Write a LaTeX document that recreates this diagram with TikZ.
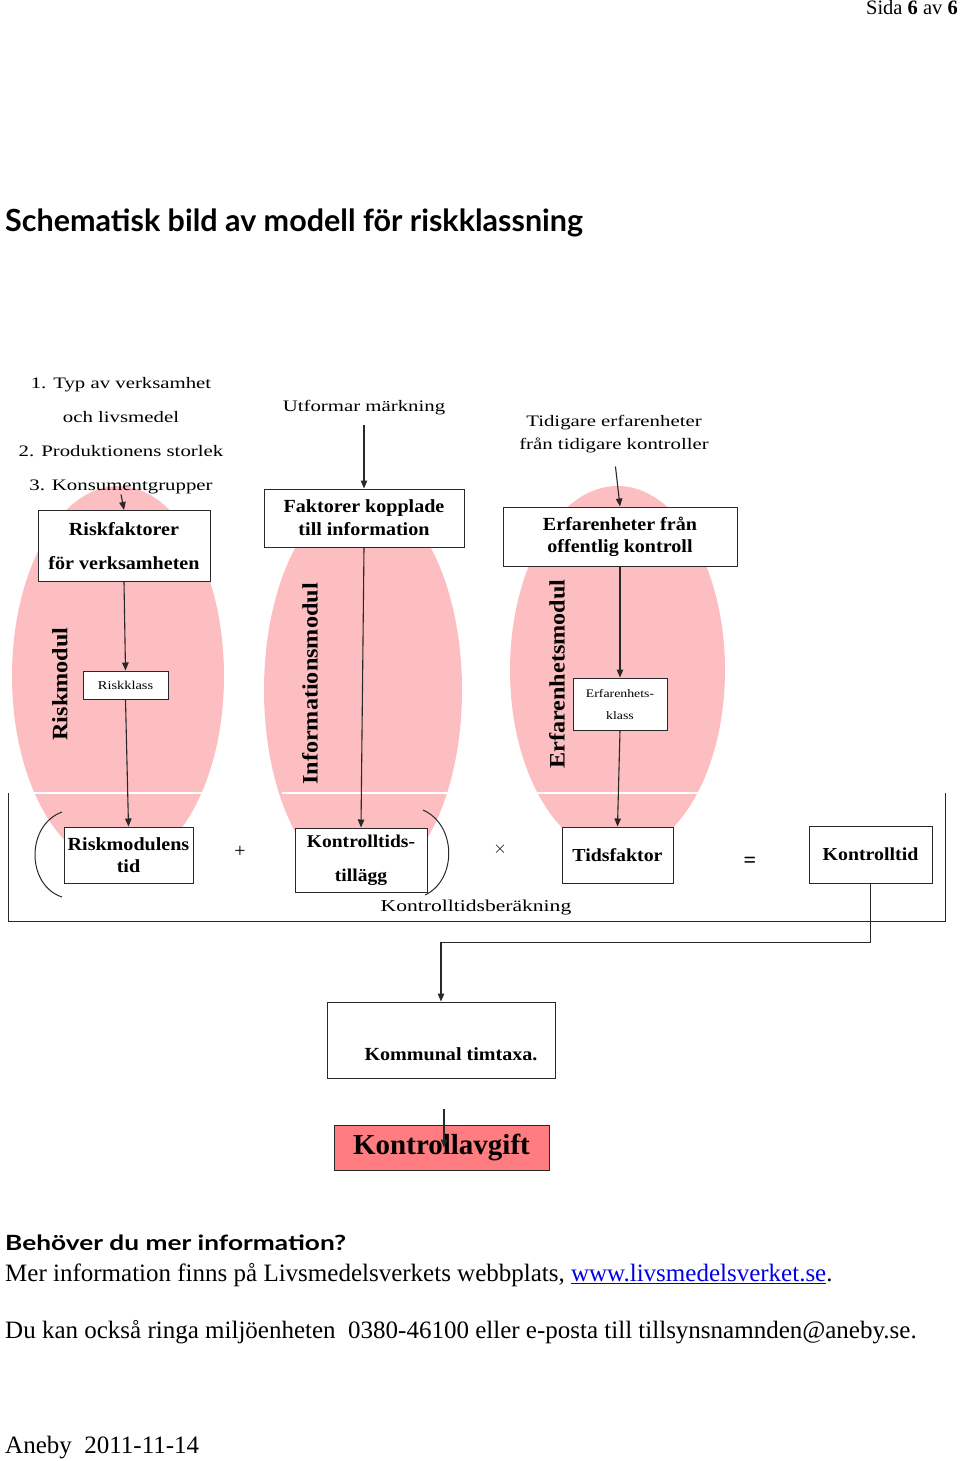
\documentclass[tikz,border=0pt]{standalone}
\usepackage{fontspec}
\setmainfont{Liberation Serif}
\newfontfamily\titlefont{Lato}
\newfontfamily\qfont[FakeStretch=1.25]{Lato}
\newfontfamily\sA[FakeStretch=1.3]{Liberation Serif}
\newfontfamily\sB[FakeStretch=1.085]{Liberation Serif}
\newfontfamily\sC[FakeStretch=1.2]{Liberation Serif}
\newfontfamily\sV[FakeStretch=1.1]{Liberation Serif}
\usetikzlibrary{arrows.meta,calc}
\definecolor{pinkfill}{RGB}{252,190,193}
\definecolor{redfill}{RGB}{255,124,128}
\definecolor{linkblue}{RGB}{0,0,230}
\definecolor{ln}{RGB}{40,40,40}
\begin{document}
\begin{tikzpicture}[x=1pt,y=-1pt,
  box/.style={draw=ln, line width=1pt, fill=white, inner sep=0pt, align=center},
  arr/.style={draw=ln, line width=1.1pt, -{Triangle[length=8pt,width=6.5pt]}},
  plain/.style={draw=ln, line width=1pt},
  lbl/.style={align=center, inner sep=0pt},
  vlab/.style={rotate=90, inner sep=0pt, font=\sV\fontsize{22}{22}\selectfont\bfseries},
  body/.style={anchor=base west, inner sep=0pt, font=\fontsize{25}{25}\selectfont},
  sep/.style={draw=white, line width=1.5pt}
]
\useasboundingbox (0,0) rectangle (960,1461);

% header and title
\node[anchor=base east, inner sep=0pt, font=\fontsize{20.5}{20.5}\selectfont] (hdr) at (958,15) {Sida \textbf{6} av \textbf{6}};
\node[anchor=base west, inner sep=0pt, font=\titlefont\fontsize{30.5}{30.5}\selectfont\bfseries] (title) at (5,231) {Schematisk bild av modell för riskklassning};

% pink modules
\fill[pinkfill] (118,676) ellipse [x radius=106, y radius=190];
\fill[pinkfill] (363,690) ellipse [x radius=99, y radius=195];
\fill[pinkfill] (617.5,670) ellipse [x radius=107.5, y radius=184];
\draw[sep] (28,793) -- (207,793);
\draw[sep] (282,793) -- (447,793);
\draw[sep] (533,793) -- (703,793);

% vertical labels
\node[vlab] (vrisk) at (60,684) {Riskmodul};
\node[vlab] (vinfo) at (310,684) {Informationsmodul};
\node[vlab] (verf) at (557,674) {Erfarenhetsmodul};

% top labels
\node[lbl, font=\sA\fontsize{16}{34}\selectfont] (lab1) at (121,436) {1. Typ av verksamhet\\och livsmedel\\2. Produktionens storlek\\3. Konsumentgrupper};
\node[lbl, font=\sA\fontsize{16}{23}\selectfont] (lab2) at (364,408) {Utformar märkning};
\node[lbl, font=\sA\fontsize{16}{23}\selectfont] (lab3) at (614,434.5) {Tidigare erfarenheter\\från tidigare kontroller};

% boxes
\node[box, minimum width=172, minimum height=71, font=\sB\fontsize{18.5}{34}\selectfont\bfseries] (rf) at (124,546) {Riskfaktorer\\för verksamheten};
\node[box, minimum width=200, minimum height=58, font=\sB\fontsize{18.5}{23}\selectfont\bfseries] (fk) at (364,518) {Faktorer kopplade\\till information};
\node[box, minimum width=234, minimum height=59, font=\sB\fontsize{18.5}{22}\selectfont\bfseries] (ef) at (620,536.5) {Erfarenheter från\\offentlig kontroll};
\node[box, minimum width=85, minimum height=28, font=\sC\fontsize{12}{12}\selectfont] (rk) at (125.5,685) {Riskklass};
\node[box, minimum width=94, minimum height=52, font=\sC\fontsize{11.5}{22}\selectfont] (ek) at (620,704) {Erfarenhets-\\klass};
\node[box, minimum width=129, minimum height=56, font=\sB\fontsize{18.5}{22}\selectfont\bfseries] (rt) at (128.5,855) {Riskmodulens\\tid};
\node[box, minimum width=132, minimum height=64, font=\sB\fontsize{18}{34}\selectfont\bfseries] (kt) at (361,860) {Kontrolltids-\\tillägg};
\node[box, minimum width=111, minimum height=56, font=\sB\fontsize{18.3}{22}\selectfont\bfseries] (tf) at (617.5,855) {Tidsfaktor};
\node[box, minimum width=123, minimum height=57, font=\sB\fontsize{18.3}{22}\selectfont\bfseries] (kl) at (870.5,854.5) {Kontrolltid};
\node[box, minimum width=228, minimum height=76] (kom) at (441,1040) {};
\node[inner sep=0pt, anchor=base, font=\sB\fontsize{18.5}{18.5}\selectfont\bfseries] (komt) at (451,1060) {Kommunal timtaxa.};
\node[box, fill=redfill, minimum width=215, minimum height=45, font=\fontsize{29}{29}\selectfont\bfseries] (ka) at (441.5,1147.5) {Kontrollavgift};

% operators
\node[inner sep=0pt, font=\fontsize{20}{20}\selectfont] (plus) at (240,852) {+};
\node[inner sep=0pt, font=\fontsize{16}{16}\selectfont] (times) at (500,849) {$\times$};
\node[inner sep=0pt, font=\fontsize{22}{22}\selectfont\bfseries] (eq) at (750,862) {=};
\node[inner sep=0pt, anchor=base, font=\sA\fontsize{16.6}{16.6}\selectfont] (ktb) at (476,911) {Kontrolltidsberäkning};

% parentheses
\draw[plain] (62,812) .. controls (26,825) and (26,885) .. (62,897);
\draw[plain] (423,810) .. controls (457,825) and (457,880) .. (425,895);

% bracket
\coordinate (bl) at (8,793);
\coordinate (br) at (945,793);
\draw[plain] (bl) -- (8,921) -- (945,921) -- (br);

% arrows
\draw[arr] (lab1.south) -- (rf.north);
\draw[arr, shorten <=9pt] (lab2.south -| fk.north) -- (fk.north);
\draw[arr, shorten <=13pt] (lab3.south) -- (ef.north);
\draw[arr] (rf.south) -- (rk.north);
\draw[arr] (rk.south) -- (rt.north);
\draw[arr] (fk.south) -- (kt.north);
\draw[arr] (ef.south) -- (ek.north);
\draw[arr] (ek.south) -- (tf.north);
\draw[arr] (kl.south) -- ++(0,59) -| (kom.north);
\coordinate (kfree) at (444,1109);
\draw[arr] (kfree) -- (kfree |- ka.center);

% bottom text
\node[anchor=base west, inner sep=0pt, font=\qfont\fontsize{21}{21}\selectfont\bfseries] (q) at (5,1250) {Behöver du mer information?};
\node[body] (t1) at (5,1281) {Mer information finns på Livsmedelsverkets webbplats, \textcolor{linkblue}{\underline{www.livsmedelsverket.se}}.};
\node[body] (t2) at (5,1338) {Du kan också ringa miljöenheten~~0380-46100 eller e-posta till tillsynsnamnden@aneby.se.};
\node[body] (t3) at (5,1453) {Aneby~~2011-11-14};
\end{tikzpicture}
\end{document}
